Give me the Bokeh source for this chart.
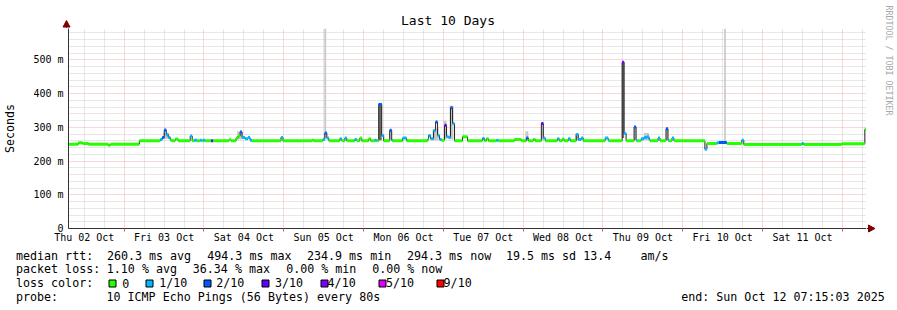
import calendar
import datetime as dt

from bokeh.plotting import figure
from bokeh.layouts import column, row
from bokeh.core.properties import value
from bokeh.models import (ColumnDataSource, Range1d, FixedTicker, DatetimeTickFormatter,
                          CustomJSTickFormatter)
from bokeh.embed import file_html
from bokeh.resources import INLINE

# ---------------------------------------------------------------- data
START = dt.datetime(2025, 10, 2, 7, 15, 3)
END = dt.datetime(2025, 10, 12, 7, 15, 3)

# median rtt as steps: hours after START, value in ms, pings lost (of 10)
median_hours = [0.0, 3.0, 4.2, 6.0, 12.0, 12.6, 21.3, 27.6, 28.2, 28.8, 29.4, 30.0, 30.6, 31.2,
                32.1, 33.0, 36.6, 37.2, 37.8, 38.7, 39.6, 40.2, 40.5, 41.1, 42.9, 43.5, 48.3,
                48.9, 50.4, 51.0, 51.6, 52.2, 53.1, 54.0, 54.6, 55.2, 63.9, 64.5, 73.2, 73.8,
                76.5, 77.1, 77.7, 78.3, 81.6, 82.2, 83.1, 83.7, 86.1, 86.7, 87.6, 88.2, 90.3,
                90.9, 92.1, 92.7, 93.3, 94.2, 94.8, 96.6, 97.2, 97.5, 100.5, 101.7, 108.0,
                108.3, 108.9, 109.8, 110.4, 111.0, 111.6, 112.2, 113.1, 113.7, 114.3, 114.9,
                115.5, 116.1, 118.5, 120.0, 124.5, 125.1, 125.7, 126.3, 128.7, 129.3, 134.1,
                136.2, 137.7, 138.3, 139.8, 140.4, 142.2, 142.8, 143.4, 147.0, 147.6, 148.5,
                149.1, 150.3, 150.9, 152.7, 153.3, 154.2, 154.8, 161.4, 162.3, 162.6, 166.5,
                167.1, 167.7, 170.1, 170.7, 171.0, 172.2, 173.1, 174.0, 174.6, 174.9, 177.3,
                177.9, 179.7, 180.3, 180.6, 181.5, 182.1, 191.4, 192.0, 195.0, 195.6, 198.0,
                202.5, 203.1, 220.5, 221.1, 232.5, 239.5]
median_ms = [250, 254, 252, 250, 247, 250, 260, 264, 270, 292, 278, 270, 262, 260,
             265, 260, 274, 260, 262, 260, 262, 260, 262, 260, 260, 260, 263,
             260, 268, 274, 286, 270, 266, 270, 262, 260, 270, 260, 262, 260,
             264, 283, 268, 260, 266, 260, 268, 260, 264, 260, 268, 260, 266,
             260, 262, 260, 368, 276, 260, 291, 262, 260, 268, 260, 264,
             276, 266, 290, 316, 276, 264, 262, 306, 272, 270, 358,
             311, 260, 272, 260, 267, 260, 266, 260, 262, 260, 264,
             260, 268, 260, 264, 260, 311, 268, 260, 266, 260, 265,
             260, 266, 260, 279, 264, 268, 260, 268, 262, 260, 493,
             282, 260, 301, 262, 260, 266, 270, 272, 264, 260, 268,
             260, 296, 262, 260, 268, 260, 235, 252, 254, 255, 252,
             262, 249, 252, 249, 251, 294]
median_loss = [0, 0, 0, 0, 0, 0, 0, 1, 2, 2, 1, 1, 0, 0,
               0, 0, 1, 0, 1, 0, 1, 0, 1, 0, 3, 0, 0,
               0, 0, 0, 2, 1, 1, 1, 1, 0, 1, 0, 0, 0,
               1, 2, 1, 0, 1, 0, 1, 0, 1, 0, 0, 0, 0,
               0, 1, 0, 2, 1, 0, 2, 1, 0, 1, 0, 0,
               1, 1, 1, 2, 1, 1, 0, 3, 1, 1, 2,
               1, 0, 0, 0, 1, 0, 0, 0, 1, 0, 0,
               0, 2, 0, 0, 0, 3, 1, 0, 1, 0, 0,
               0, 1, 0, 1, 1, 1, 0, 1, 1, 0, 4,
               1, 0, 2, 1, 0, 1, 1, 1, 1, 0, 1,
               0, 2, 1, 0, 1, 0, 1, 0, 1, 2, 0,
               1, 0, 1, 0, 0, 0]

# smoke (spread of the single pings): from/to hours, low/high ms
smoke_from_h = [28.5, 50.7, 76.95, 96.6, 109.5, 112.8, 114.6, 137.4, 142.2, 152.4,
                170.1, 173.1, 179.7, 197.2]
smoke_to_h = [30.3, 52.2, 77.5, 97.2, 111.3, 113.7, 115.8, 138.3, 142.8, 153.3,
              170.7, 174.6, 180.3, 197.7]
smoke_lo_ms = [266, 264, 268, 262, 262, 264, 264, 262, 262, 262, 262, 262, 262, 256]
smoke_hi_ms = [284, 288, 593, 292, 296, 319, 364, 288, 314, 282, 304, 283, 299, 593]
core_from_h = [93.3, 166.5]
core_to_h = [94.2, 167.1]
core_lo_ms = [262, 268]
core_hi_ms = [372, 494]

loss_levels = [0, 1, 2, 3, 4, 5, 9]
loss_names = ["0", "1/10", "2/10", "3/10", "4/10", "5/10", "9/10"]
loss_colors = ["#26ff00", "#00b8ff", "#0059ff", "#5e00ff", "#7e00ff", "#dd00ff", "#ff0000"]

y_ticks = [0, 100, 200, 300, 400, 500]
title_text = "Last 10 Days"
rtt_fields = ["median rtt:", "260.3 ms avg", "494.3 ms max", "234.9 ms min", "294.3 ms now",
              "19.5 ms sd", "13.4", "am/s"]
loss_fields = ["packet loss:", "1.10 % avg", "36.34 % max", "0.00 % min", "0.00 % now"]
color_fields = ["loss color:"]
probe_fields = ["probe:", "10 ICMP Echo Pings (56 Bytes) every 80s"]
end_text = "end: Sun Oct 12 07:15:03 2025"
watermark = "RRDTOOL / TOBI OETIKER"

# ---------------------------------------------------------------- helpers
HOUR = 3600 * 1000.0


def to_ms(d):
    return calendar.timegm(d.timetuple()) * 1000.0


t0 = to_ms(START)
t1 = to_ms(END)


def at(h):
    return t0 + h * HOUR


FONT = "DejaVu Sans Mono"
W, HT = 897, 310
TOP_H = 28          # strip holding the title
MAIN_W = 866        # chart figure ends at the right edge of the frame
ROW_H = 246         # title strip + chart
AXIS_C = "#333333"
ARROW_C = "#7f0000"


def strip(width, height, xr, yr):
    f = figure(width=width, height=height, x_range=Range1d(*xr), y_range=Range1d(*yr),
               output_backend="svg", toolbar_location=None, min_border=0,
               x_axis_location=None, y_axis_location=None)
    f.outline_line_color = None
    f.grid.visible = False
    f.background_fill_color = "white"
    f.border_fill_color = "white"
    return f


# ---------------------------------------------------------------- main chart
p = figure(width=MAIN_W, height=ROW_H - TOP_H, x_axis_type="datetime",
           x_range=Range1d(t0, t1), y_range=Range1d(0, 593),
           output_backend="svg", toolbar_location=None,
           min_border_left=66, min_border_right=0,
           min_border_top=0, min_border_bottom=ROW_H - TOP_H - 200)
p.outline_line_color = None
p.background_fill_color = "white"
p.border_fill_color = "white"

# grids: days (red) and 6 hours (grey); 100 m (red) and 20 m (grey)
days_mid = [to_ms(dt.datetime(2025, 10, d)) for d in range(3, 13)]
six_h = [to_ms(dt.datetime(2025, 10, d, hh)) for d in range(2, 13) for hh in (6, 12, 18)]
six_h = [v for v in six_h if t0 < v < t1]
noons = [to_ms(dt.datetime(2025, 10, d, 12)) for d in range(2, 12)]

p.xgrid.ticker = FixedTicker(ticks=days_mid, minor_ticks=six_h)
p.ygrid.ticker = FixedTicker(ticks=y_ticks, minor_ticks=[v for v in range(20, 593, 20) if v % 100])
for g in (p.xgrid, p.ygrid):
    g.grid_line_color = "#de5050"
    g.grid_line_alpha = 0.45
    g.grid_line_dash = "1 1"
    g.minor_grid_line_color = "#8f8f8f"
    g.minor_grid_line_alpha = 0.42
    g.minor_grid_line_dash = "1 1"

# axes
fmt = "%a %d %b"
p.xaxis.ticker = FixedTicker(ticks=noons, minor_ticks=days_mid)
p.xaxis.formatter = DatetimeTickFormatter(
    microseconds=fmt, milliseconds=fmt, seconds=fmt, minsec=fmt, minutes=fmt,
    hourmin=fmt, hours=fmt, days=fmt, months=fmt, years=fmt)
p.xaxis.major_tick_out = 0
p.xaxis.major_tick_in = 0
p.xaxis.minor_tick_out = 3
p.xaxis.minor_tick_in = 0
p.xaxis.minor_tick_line_color = "#de5050"
p.xaxis.major_label_standoff = 0

p.yaxis.ticker = FixedTicker(ticks=y_ticks)
p.yaxis.formatter = CustomJSTickFormatter(code="return tick == 0 ? '0' : tick.toFixed(0) + ' m';")
p.yaxis.major_tick_out = 0
p.yaxis.major_tick_in = 0
p.yaxis.minor_tick_out = 0
p.yaxis.minor_tick_in = 0
p.yaxis.major_label_standoff = 5
p.yaxis.axis_label = "Seconds"
p.yaxis.axis_label_standoff = 13
p.yaxis.axis_label_text_font = FONT
p.yaxis.axis_label_text_font_size = "11.6px"
p.yaxis.axis_label_text_font_style = "normal"
p.yaxis.axis_label_text_color = "black"

for ax in (p.xaxis, p.yaxis):
    ax.axis_line_color = AXIS_C
    ax.major_label_text_font = FONT
    ax.major_label_text_font_size = "10px"
    ax.major_label_text_color = "black"

# smoke
smoke = ColumnDataSource(dict(left=[at(h) for h in smoke_from_h], right=[at(h) for h in smoke_to_h],
                              bottom=smoke_lo_ms, top=smoke_hi_ms))
p.quad(left="left", right="right", bottom="bottom", top="top", source=smoke,
       fill_color="#c8c8c8", line_color=None)
core = ColumnDataSource(dict(left=[at(h) for h in core_from_h], right=[at(h) for h in core_to_h],
                             bottom=core_lo_ms, top=core_hi_ms))
p.quad(left="left", right="right", bottom="bottom", top="top", source=core,
       fill_color="#6a6a6a", line_color=None)

# median line: dark step + loss coloured segments
times = [at(h) for h in median_hours] + [t1]
p.step(times, median_ms + [median_ms[-1]], mode="after", line_color="#202020", line_width=1)

cmap = dict(zip(loss_levels, loss_colors))
seg = ColumnDataSource(dict(x0=times[:-1], x1=times[1:], y=median_ms,
                            color=[cmap[l] for l in median_loss]))
p.segment(x0="x0", y0="y", x1="x1", y1="y", source=seg, line_color="color", line_width=3)

# ---------------------------------------------------------------- title strip (page pixels)
top = strip(MAIN_W, TOP_H, (0, MAIN_W), (TOP_H, 0))
top.text(x=[447.5], y=[20], text=[title_text], text_align="center", text_baseline="middle",
         text_font=value(FONT), text_font_size=value("13px"), text_color="black")
# y axis continues upward into an arrow
top.segment(x0=[66], y0=[TOP_H], x1=[66], y1=[24], line_color=AXIS_C, line_width=1)
top.patch(x=[62.5, 66, 69.5], y=[26.5, 20, 26.5], fill_color=ARROW_C, line_color=ARROW_C)

# ---------------------------------------------------------------- right strip (page pixels)
rs = strip(W - MAIN_W, ROW_H, (MAIN_W, W), (ROW_H, 0))
rs.text(x=[888], y=[5], text=[watermark], angle=-1.5707963, text_align="left",
        text_baseline="middle", text_font=value(FONT), text_font_size=value("8.3px"),
        text_color="#a8a8a8")
# x axis continues to the right into an arrow
rs.segment(x0=[MAIN_W], y0=[228], x1=[869], y1=[228], line_color=AXIS_C, line_width=1)
rs.patch(x=[868, 874.5, 868], y=[224.5, 228, 231.5], fill_color=ARROW_C, line_color=ARROW_C)

# ---------------------------------------------------------------- legend strip (page pixels)
lg = strip(W, HT - ROW_H, (0, W), (HT, ROW_H))
rows = [
    (rtt_fields, [15.5, 106.4, 206.8, 306.5, 406.5, 505.4, 582.7, 640.0], 255.3),
    (loss_fields, [15.5, 106.3, 192.3, 285.7, 371.7], 268.7),
    (color_fields, [15.5], 282.8),
    (probe_fields, [15.5, 106.0], 296.3),
    ([end_text], [680.7], 296.3),
]
tx, ty, tt = [], [], []
for fields, xs, mid in rows:
    tx += xs
    ty += [mid] * len(fields)
    tt += fields
lg.text(x=tx, y=ty, text=tt, text_align="left", text_baseline="middle",
        text_font=value(FONT), text_font_size=value("11.67px"), text_color="black")

box_left = [108.5, 145.5, 203.5, 261.5, 320.5, 378.5, 436.5]
label_left = [121.8, 158.8, 215.8, 274.5, 327.1, 385.5, 443.1]
lg.quad(left=box_left, right=[b + 7 for b in box_left], top=[279.5] * 7, bottom=[286.5] * 7,
        fill_color=loss_colors, line_color="black", line_width=1)
lg.text(x=label_left, y=[282.8] * 7, text=loss_names, text_align="left",
        text_baseline="middle", text_font=value(FONT), text_font_size=value("11.67px"),
        text_color="black")

layout = column(row(column(row(top), p), rs), lg)
open("out.html", "w").write(file_html(layout, INLINE))
